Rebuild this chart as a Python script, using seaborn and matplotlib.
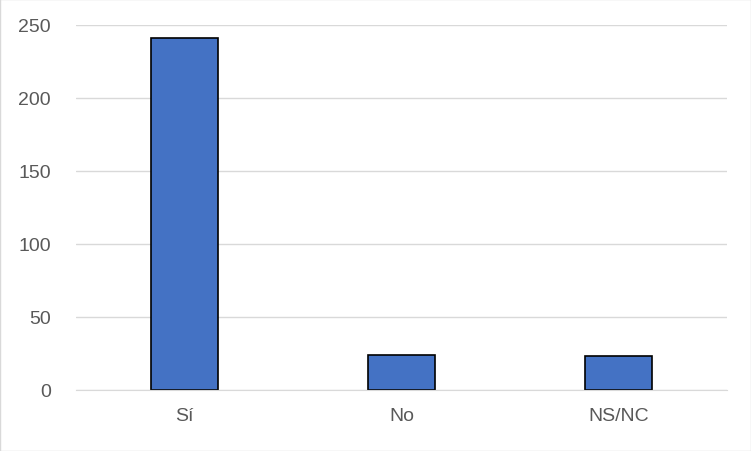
import matplotlib
matplotlib.use("Agg")
import matplotlib.pyplot as plt
import seaborn as sns
import pandas as pd

categories = ["Sí", "No", "NS/NC"]
values = [241, 24, 23]

df = pd.DataFrame({"cat": categories, "val": values})
sns.set_style("white")
plt.rcParams['font.family'] = ['Liberation Sans', 'DejaVu Sans']

fig = plt.figure(figsize=(7.51, 4.52), dpi=100)
ax = fig.add_axes([0.101, 0.135, 0.867, 0.808])
sns.barplot(data=df, x="cat", y="val", color="#4472C4", width=0.31,
            edgecolor="black", linewidth=1.2, saturation=1, ax=ax)
ax.set_xlim(-0.5, 2.5)
ax.set_ylim(0, 250)
ax.set_yticks(range(0, 251, 50))
ax.yaxis.grid(True, color="#D9D9D9", linewidth=1)
ax.set_axisbelow(True)
ax.set_xlabel("")
ax.set_ylabel("")
for s in ["top", "right", "left"]:
    ax.spines[s].set_visible(False)
ax.spines["bottom"].set_color("#D9D9D9")
ax.tick_params(axis="y", labelsize=14, colors="#595959", length=0, pad=18)
ax.tick_params(axis="x", labelsize=14, colors="#595959", length=0, pad=12)
fig.patches.append(plt.Rectangle((0, 0), 1, 1, transform=fig.transFigure,
                                 fill=False, edgecolor="#D9D9D9", linewidth=1))
fig.savefig("out.png", dpi=100)
